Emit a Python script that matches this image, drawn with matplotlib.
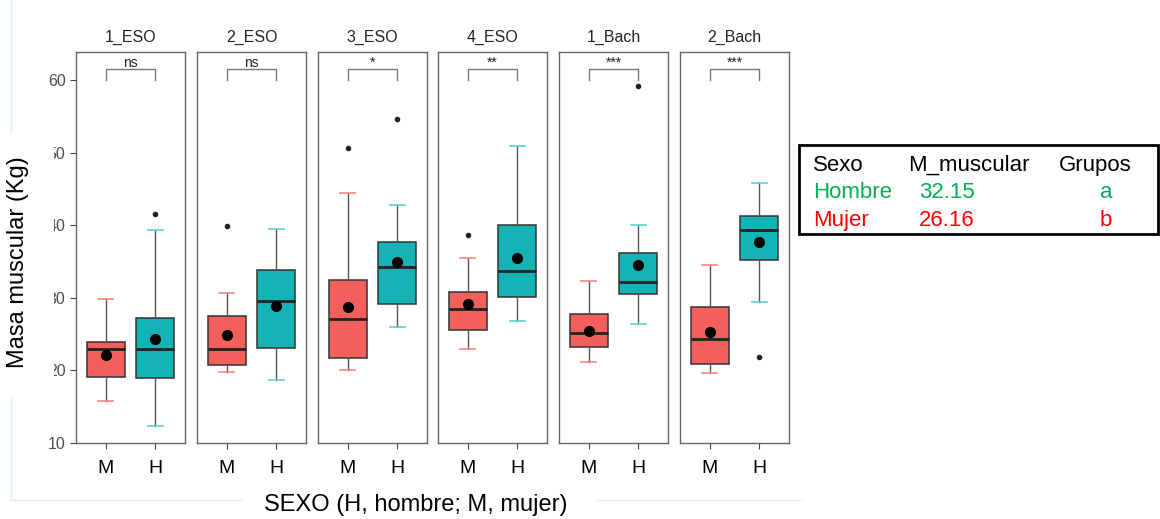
import numpy as np
import matplotlib
matplotlib.use("Agg")
import matplotlib.pyplot as plt
from matplotlib.patches import Rectangle
from matplotlib.lines import Line2D

plt.rcParams['font.family'] = ['Liberation Sans', 'DejaVu Sans']

# datos
grupos = ['1_ESO', '2_ESO', '3_ESO', '4_ESO', '1_Bach', '2_Bach']
signif = ['ns', 'ns', '*', '**', '***', '***']
sexos = ['M', 'H']

# mujeres (M)
m_whislo = [15.8, 19.85, 20.0, 22.9, 21.1, 19.7]
m_q1 = [19.15, 20.7, 21.7, 25.6, 23.3, 20.9]
m_med = [23.0, 22.95, 27.15, 28.5, 25.15, 24.3]
m_q3 = [23.95, 27.55, 32.45, 30.75, 27.75, 28.8]
m_whishi = [29.9, 30.7, 44.4, 35.5, 32.3, 34.6]
m_mean = [22.15, 24.9, 28.8, 29.1, 25.5, 25.25]
m_fliers = [[], [39.9], [50.7], [38.65], [], []]

# hombres (H)
h_whislo = [12.4, 18.7, 26.05, 26.85, 26.4, 29.5]
h_q1 = [19.0, 23.1, 29.2, 30.1, 30.5, 35.25]
h_med = [22.95, 29.6, 34.2, 33.7, 32.25, 39.3]
h_q3 = [27.2, 33.9, 37.75, 40.05, 36.2, 41.3]
h_whishi = [39.3, 39.5, 42.85, 50.95, 40.1, 45.8]
h_mean = [24.3, 28.95, 34.9, 35.55, 34.6, 37.7]
h_fliers = [[41.5], [], [54.6], [], [59.2], [21.8]]

# tabla de la derecha
tabla_cab = ['Sexo', 'M_muscular', 'Grupos']
tabla_sexo = ['Hombre', 'Mujer']
tabla_media = ['32.15', '26.16']
tabla_grupo = ['a', 'b']
tabla_color = ['#00B050', '#FF0000']

fill_col = ['#F35F5A', '#14B3B6']
cap_col = ['#F8857E', '#5CCFD2']

W, H = 1160, 519
fig = plt.figure(figsize=(W / 100, H / 100), dpi=100)


def fx(px):
    return px / W


def fy(py):
    return 1 - py / H


lefts = [76, 197, 318, 438, 559, 680]
pw = 109
top, bot = 52, 443

for i, g in enumerate(grupos):
    ax = fig.add_axes([fx(lefts[i]), fy(bot), pw / W, (bot - top) / H])
    stats = [
        dict(whislo=m_whislo[i], q1=m_q1[i], med=m_med[i], q3=m_q3[i],
             whishi=m_whishi[i], mean=m_mean[i], fliers=m_fliers[i]),
        dict(whislo=h_whislo[i], q1=h_q1[i], med=h_med[i], q3=h_q3[i],
             whishi=h_whishi[i], mean=h_mean[i], fliers=h_fliers[i]),
    ]
    res = ax.bxp(stats, positions=[1, 2], widths=0.76, capwidths=0.3,
                 patch_artist=True, showmeans=True,
                 boxprops=dict(edgecolor='#333333', linewidth=1.1),
                 medianprops=dict(color='#222222', linewidth=2),
                 whiskerprops=dict(color='#555555', linewidth=1),
                 capprops=dict(linewidth=1.2),
                 meanprops=dict(marker='o', markerfacecolor='black',
                                markeredgecolor='black', markersize=7),
                 flierprops=dict(marker='o', markerfacecolor='#222222',
                                 markeredgecolor='#222222', markersize=3))
    for j, b in enumerate(res['boxes']):
        b.set_facecolor(fill_col[j])
    for k, c in enumerate(res['caps']):
        c.set_color(cap_col[k // 2])

    # corchete de significacion
    ax.plot([1, 1, 2, 2], [60.1, 61.5, 61.5, 60.1], color='#777777', lw=1)
    ax.text(1.5, 61.9, signif[i], ha='center', va='baseline', fontsize=10,
            color='#222222')

    ax.set_xlim(0.4, 2.6)
    ax.set_ylim(10, 63.9)
    ax.set_xticks([1, 2])
    ax.set_xticklabels(sexos)
    ax.tick_params(axis='x', labelsize=14, length=4, color='#444444', pad=8)
    ax.set_yticks([10, 20, 30, 40, 50, 60])
    if i == 0:
        ax.tick_params(axis='y', labelsize=11.5, labelcolor='#4D4D4D',
                       length=4, color='#444444')
    else:
        ax.tick_params(axis='y', left=False, labelleft=False)
    for s in ax.spines.values():
        s.set_color('#666666')
        s.set_linewidth(1)
    ax.set_title(g, fontsize=11.5, pad=7, color='#222222')

# recuadro blanco del rotulo del eje y (tapa parte de las etiquetas)
fig.patches.append(Rectangle((0, fy(397)), fx(54), (397 - 133) / H,
                             transform=fig.transFigure, facecolor='white',
                             edgecolor='none', zorder=5))
fig.lines.append(Line2D([fx(11), fx(11)], [fy(0), fy(133)],
                        transform=fig.transFigure, color='#DCEBF5', lw=1))
fig.lines.append(Line2D([fx(11), fx(11)], [fy(397), fy(500)],
                        transform=fig.transFigure, color='#DCEBF5', lw=1))
fig.lines.append(Line2D([fx(11), fx(241)], [fy(500), fy(500)],
                        transform=fig.transFigure, color='#DCEBF5', lw=1))
fig.lines.append(Line2D([fx(597), fx(800)], [fy(500), fy(500)],
                        transform=fig.transFigure, color='#DCEBF5', lw=1))

fig.text(fx(18), fy(262), 'Masa muscular (Kg)', rotation=90, ha='center',
         va='center', fontsize=17, zorder=6)
fig.text(fx(416), fy(505), 'SEXO (H, hombre; M, mujer)', ha='center',
         va='center', fontsize=17)

# tabla
fig.patches.append(Rectangle((fx(799), fy(234)), (1158 - 799) / W, (234 - 145) / H,
                             transform=fig.transFigure, facecolor='white',
                             edgecolor='black', linewidth=2))
col_x = [813, 908, 1059]
fig.text(fx(col_x[0]), fy(171), tabla_cab[0], fontsize=16, va='baseline')
fig.text(fx(col_x[1]), fy(171), tabla_cab[1], fontsize=16, va='baseline')
fig.text(fx(col_x[2]), fy(171), tabla_cab[2], fontsize=16, va='baseline')
for r in range(2):
    yb = fy(198 + 27.5 * r)
    fig.text(fx(813), yb, tabla_sexo[r], fontsize=16, va='baseline', color=tabla_color[r])
    fig.text(fx(919), yb, tabla_media[r], fontsize=16, va='baseline', color=tabla_color[r])
    fig.text(fx(1100), yb, tabla_grupo[r], fontsize=16, va='baseline', color=tabla_color[r])

fig.savefig('out.png', dpi=100, facecolor='white')
